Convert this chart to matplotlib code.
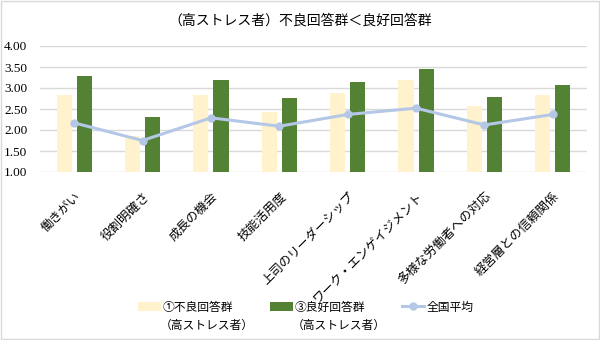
import matplotlib
matplotlib.use("Agg")
import matplotlib.pyplot as plt
import numpy as np

# data
categories = [
    "働きがい",
    "役割明確さ",
    "成長の機会",
    "技能活用度",
    "上司のリーダーシップ",
    "ワーク・エンゲイジメント",
    "多様な労働者への対応",
    "経営層との信頼関係",
]
bad_group = [2.83, 1.85, 2.83, 2.44, 2.87, 3.20, 2.56, 2.84]
good_group = [3.29, 2.31, 3.20, 2.76, 3.15, 3.46, 2.79, 3.06]
national_avg = [2.17, 1.75, 2.29, 2.09, 2.37, 2.52, 2.12, 2.37]
y_ticks = [1.00, 1.50, 2.00, 2.50, 3.00, 3.50, 4.00]

title = "（高ストレス者）不良回答群＜良好回答群"
legend_labels = ["①不良回答群", "③良好回答群", "全国平均"]
legend_sub = "（高ストレス者）"

JP = ["Noto Sans CJK JP", "DejaVu Sans"]
plt.rcParams["font.family"] = JP

fig = plt.figure(figsize=(6.0, 3.4), dpi=100)
ax = fig.add_axes([40 / 600, 1 - 172 / 340, 547 / 600, 126 / 340])

x = np.arange(len(categories))
w = 0.22
off = 0.147
b1 = ax.bar(x - off, np.array(bad_group) - 1, w, bottom=1, color="#FFF2CC", zorder=2)
b2 = ax.bar(x + off, np.array(good_group) - 1, w, bottom=1, color="#548235", zorder=2)
ln, = ax.plot(x, national_avg, color="#B4C7E7", lw=2.2, marker="o", ms=5, zorder=3)

ax.set_xlim(-0.5, len(categories) - 0.5)
ax.set_ylim(1.0, 4.0)
ax.set_yticks(y_ticks)
ax.set_yticklabels([f"{v:.2f}" for v in y_ticks], family=["Liberation Serif"], fontsize=9.5)
ax.yaxis.grid(True, color="#D9D9D9", lw=1, zorder=0)
ax.set_axisbelow(True)
for s in ax.spines.values():
    s.set_visible(False)
ax.tick_params(axis="both", length=0)
ax.tick_params(axis="y", pad=9)

ax.set_xticks(x)
ax.set_xticklabels(categories, rotation=45, ha="right", va="top",
                   rotation_mode="anchor", fontsize=9)
ax.tick_params(axis="x", pad=13)

fig.text(0.5, 1 - 21 / 340, title, ha="center", va="center", fontsize=10)

leg = fig.legend([b1, b2, ln], legend_labels, loc="center",
                 bbox_to_anchor=(0.51, 1 - 307 / 340), ncol=3, frameon=False,
                 fontsize=8.5, handlelength=1.9, handletextpad=0.2,
                 columnspacing=3.1)

# second line of the two bar labels, aligned under the legend text
fig.canvas.draw()
inv = fig.transFigure.inverted()
for t in leg.get_texts()[:2]:
    bb = t.get_window_extent()
    x0, _ = inv.transform((bb.x0, bb.y0))
    fig.text(x0 - 0.005, 1 - 325 / 340, legend_sub, ha="left", va="center", fontsize=8.5)

# light frame round the picture
fig.patches.append(plt.Rectangle((0.001, 0.002), 0.997, 0.995, transform=fig.transFigure,
                                 fill=False, ec="#D9D9D9", lw=1))

fig.savefig("out.png", dpi=100)
